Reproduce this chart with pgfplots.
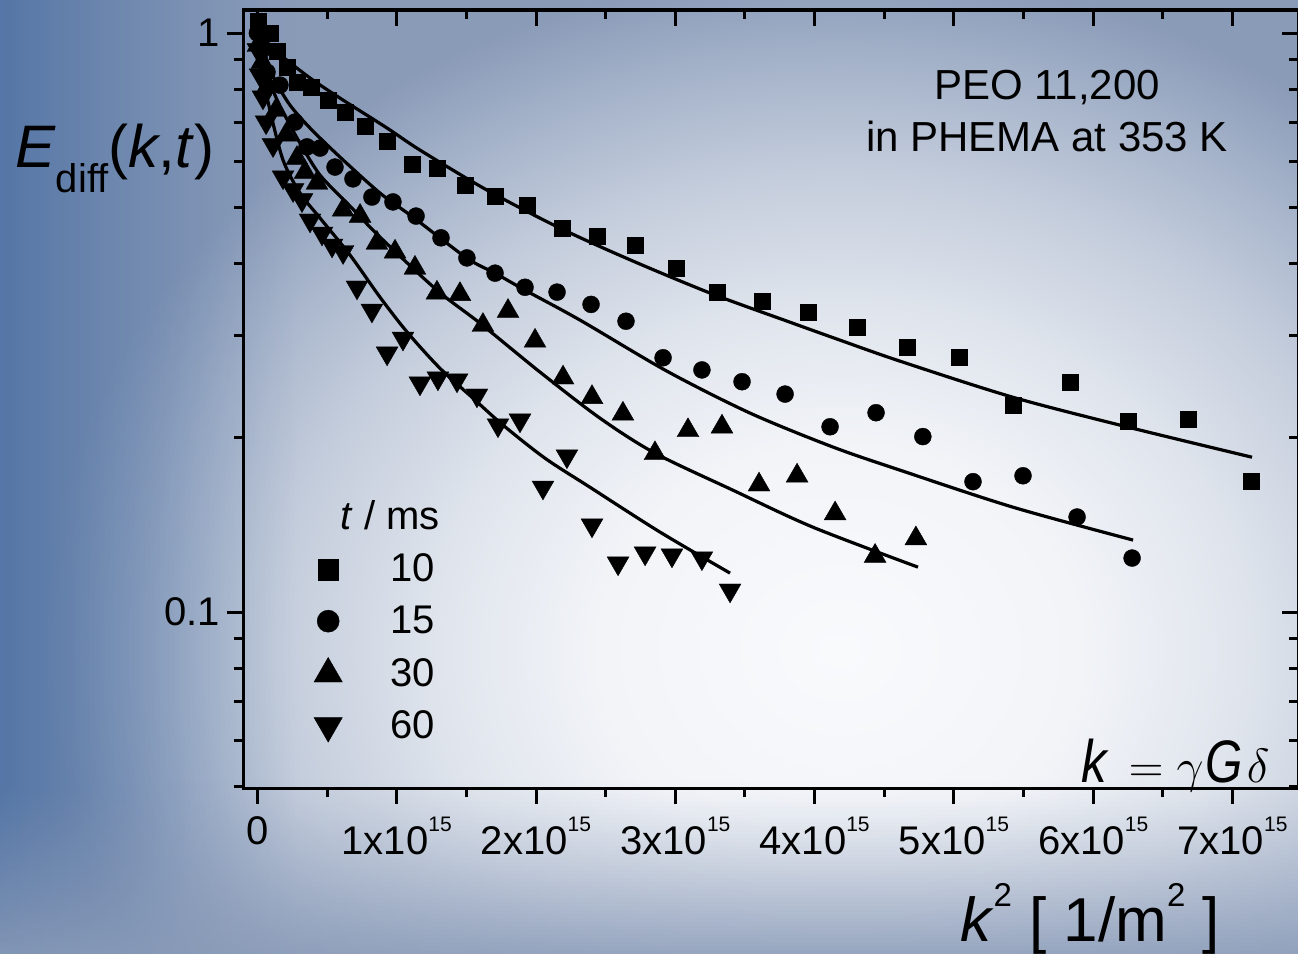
\RequirePackage{fix-cm}
\documentclass[border=0pt]{standalone}
\usepackage{pgfplots}
\pgfplotsset{compat=1.18}
\usepackage{fontspec}
\setmainfont{Liberation Sans}

% background colours
\definecolor{bgleft}{HTML}{4F72A4}
\definecolor{bgbot}{HTML}{8A9BB8}
\definecolor{g0}{HTML}{F9FAFC}
\definecolor{g1}{HTML}{F2F4F8}
\definecolor{g2}{HTML}{E0E5ED}
\definecolor{g3}{HTML}{C4CDDC}
\definecolor{g4}{HTML}{A4B2C9}
\definecolor{g5}{HTML}{8A9BB8}
% radial glow: the 25bp stop lands on the edge of the shaded rectangle
\pgfdeclareradialshading{glow}{\pgfpoint{0bp}{0bp}}{color(0bp)=(g0); color(7.5bp)=(g1); color(12.5bp)=(g2); color(17.5bp)=(g3); color(21.75bp)=(g4); color(25bp)=(g5); color(50bp)=(g5)}

% tick label of the form Nx10^15
\newcommand\tl[1]{#1x10\raisebox{11.5pt}{\fontsize{10.5}{12}\selectfont 15}}

\pgfplotsset{
  plotframe/.style={
    at={(121.5pt,83pt)}, anchor=south west,
    scale only axis, width=527.5pt, height=389pt,
    xmin=-0.1034e15, xmax=7.47e15, ymin=0.0497, ymax=1.096,
    scaled x ticks=false,
    xtick={0,1e15,2e15,3e15,4e15,5e15,6e15,7e15},
    minor xtick={0.5e15,1.5e15,2.5e15,3.5e15,4.5e15,5.5e15,6.5e15},
    ytick={0.1,1},
    minor ytick={0.05,0.06,0.07,0.08,0.09,0.2,0.3,0.4,0.5,0.6,0.7,0.8,0.9},
    major tick length=8pt, minor tick length=4.5pt,
    axis line style={line width=1.5pt},
    every tick/.style={black, line width=1.5pt},
  },
  fitline/.style={black, line width=1.6pt, mark=none, smooth, forget plot},
}

\begin{document}
\begin{tikzpicture}
\useasboundingbox (0,0) rectangle (649pt,477pt);
\begin{scope}
  \clip (0,0) rectangle (649pt,477pt);
  \fill[g5] (0,0) rectangle (649pt,477pt);
  \shade[shading=glow] (20pt,-188pt) rectangle (820pt,492pt);
  % darker band along the left edge
  \foreach \i in {0,...,59}{
    \pgfmathsetmacro\op{0.9*(1-(\i+0.5)/60)^1.3}
    \fill[bgleft, fill opacity=\op] (\i*2.5pt,0) rectangle ({(\i+1)*2.5pt},477pt);
  }
  % darker band along the bottom edge
  \foreach \i in {0,...,42}{
    \pgfmathsetmacro\op{0.85*(1-(\i+0.5)/43)^1.2}
    \fill[bgbot, fill opacity=\op] (0,\i*2pt) rectangle (649pt,{(\i+1)*2pt});
  }
\end{scope}

% mirrored ticks on top and right, pointing inwards
\begin{semilogyaxis}[plotframe, xticklabels={}, yticklabels={},
  xtick pos=right, ytick pos=right, tick align=inside]
\end{semilogyaxis}

\begin{semilogyaxis}[plotframe,
  xtick pos=left, ytick pos=left, tick align=outside,
  xticklabels={0,\tl{1},\tl{2},\tl{3},\tl{4},\tl{5},\tl{6},\tl{7}},
  yticklabels={0.1,1},
  tick label style={font=\fontsize{20}{24}\selectfont},
  xticklabel style={yshift=-3pt},
  legend style={draw=none, fill=none, at={(axis description cs:0.0673,0.3008)},
    anchor=north west, inner sep=0pt, outer sep=0pt, row sep=10.5pt,
    column sep=0pt, nodes={inner sep=0pt, font=\fontsize{20}{24}\selectfont},
    cells={anchor=center}},
  legend image code/.code={
    \draw[#1, every mark/.append style={scale=1.3}] plot coordinates {(0pt,0pt)};
    \path[draw=none, fill=none] (-7pt,0pt) -- (31pt,0pt);},
]

% fitted curves
\addplot[fitline] table {
0 1.0
0.090e15 0.9534
0.184e15 0.9090
0.378e15 0.8363
0.593e15 0.7721
0.931e15 0.6854
1.167e15 0.628
1.648e15 0.5356
2.172e15 0.4604
2.696e15 0.4039
3.270e15 0.3541
3.802e15 0.3181
4.183e15 0.2949
4.613e15 0.2713
5.424e15 0.2350
6.250e15 0.2087
7.140e15 0.1852
};
\addplot[fitline] table {
0 1.0
0.055e15 0.9164
0.126e15 0.8295
0.234e15 0.7510
0.378e15 0.6854
0.593e15 0.6107
0.880e15 0.5293
1.117e15 0.4810
1.504e15 0.4087
1.706e15 0.3850
1.921e15 0.3598
2.316e15 0.3194
2.940e15 0.2607
3.536e15 0.2207
4.132e15 0.1928
4.613e15 0.1759
5.424e15 0.1518
6.286e15 0.1332
};
\addplot[fitline] table {
0 1.0
0.055e15 0.8805
0.126e15 0.7815
0.234e15 0.6936
0.306e15 0.6457
0.450e15 0.5684
0.665e15 0.5026
0.880e15 0.4443
1.289e15 0.3598
1.598e15 0.3155
2.029e15 0.2597
2.459e15 0.2163
2.854e15 0.1882
3.414e15 0.1624
3.988e15 0.1402
4.742e15 0.1196
};
\addplot[fitline] table {
0 1.0
0.040e15 0.8461
0.090e15 0.7362
0.184e15 0.6035
0.306e15 0.5293
0.450e15 0.4791
0.665e15 0.4136
0.880e15 0.3499
1.075e15 0.3045
1.310e15 0.2638
1.548e15 0.2341
1.763e15 0.2104
2.064e15 0.1845
2.388e15 0.1643
2.890e15 0.1375
3.393e15 0.1168
};

% measured echo attenuation, t = 10 ms
\addplot[black, only marks, mark=square*, mark size=4pt,
  mark options={fill=black, draw=black, line width=0.2pt}] table {
0.004e15 1.049
0.090e15 1.000
0.141e15 0.931
0.212e15 0.873
0.284e15 0.823
0.385e15 0.807
0.507e15 0.766
0.629e15 0.730
0.773e15 0.691
0.931e15 0.651
1.110e15 0.594
1.289e15 0.585
1.490e15 0.546
1.706e15 0.523
1.935e15 0.505
2.186e15 0.460
2.438e15 0.446
2.711e15 0.430
3.005e15 0.393
3.300e15 0.357
3.623e15 0.344
3.953e15 0.330
4.305e15 0.311
4.664e15 0.287
5.036e15 0.276
5.424e15 0.228
5.834e15 0.250
6.250e15 0.214
6.681e15 0.215
7.133e15 0.168
};
\addlegendentry{10}
% t = 15 ms
\addplot[black, only marks, mark=*, mark size=4.25pt,
  mark options={fill=black, draw=black, line width=0.2pt}] table {
0.000e15 1.000
0.033e15 0.935
0.069e15 0.856
0.162e15 0.813
0.270e15 0.702
0.356e15 0.636
0.450e15 0.633
0.557e15 0.587
0.686e15 0.560
0.822e15 0.521
0.973e15 0.511
1.139e15 0.483
1.318e15 0.443
1.504e15 0.409
1.706e15 0.385
1.921e15 0.364
2.151e15 0.357
2.395e15 0.340
2.646e15 0.318
2.912e15 0.275
3.191e15 0.262
3.479e15 0.250
3.788e15 0.238
4.111e15 0.209
4.441e15 0.221
4.777e15 0.201
5.137e15 0.168
5.496e15 0.172
5.884e15 0.146
6.279e15 0.124
};
\addlegendentry{15}
% t = 30 ms
\addplot[black, only marks, mark=triangle*, mark size=6.3pt,
  mark options={fill=black, draw=black, line width=0.2pt}] table {
0.004e15 0.953
0.033e15 0.891
0.076e15 0.813
0.134e15 0.736
0.205e15 0.667
0.284e15 0.608
0.342e15 0.575
0.428e15 0.551
0.615e15 0.495
0.737e15 0.483
0.858e15 0.434
0.988e15 0.419
1.131e15 0.393
1.289e15 0.356
1.454e15 0.354
1.619e15 0.313
1.799e15 0.331
1.993e15 0.294
2.194e15 0.254
2.402e15 0.235
2.624e15 0.220
2.854e15 0.188
3.091e15 0.206
3.335e15 0.209
3.601e15 0.166
3.874e15 0.172
4.147e15 0.148
4.434e15 0.125
4.727e15 0.134
};
\addlegendentry{30}
% t = 60 ms
\addplot[black, only marks, mark=triangle*, mark size=6.3pt,
  mark options={rotate=180, fill=black, draw=black, line width=0.2pt}] table {
0.004e15 0.935
0.019e15 0.846
0.040e15 0.775
0.062e15 0.702
0.112e15 0.641
0.184e15 0.564
0.256e15 0.536
0.320e15 0.515
0.378e15 0.475
0.464e15 0.451
0.536e15 0.430
0.615e15 0.419
0.715e15 0.364
0.822e15 0.332
0.931e15 0.280
1.045e15 0.297
1.167e15 0.2485
1.296e15 0.2535
1.433e15 0.2515
1.576e15 0.2369
1.727e15 0.2104
1.885e15 0.2145
2.050e15 0.1643
2.222e15 0.186
2.402e15 0.1413
2.589e15 0.1215
2.783e15 0.1264
2.976e15 0.1254
3.191e15 0.1240
3.393e15 0.1091
};
\addlegendentry{60}
\end{semilogyaxis}

% labels and annotations
\node[anchor=base west, inner sep=0pt, font=\fontsize{30}{36}\selectfont] at (7.5pt,393pt)
  {\textit{E}\raisebox{-12.5pt}{\fontsize{20}{24}\selectfont diff}(\textit{k},\textit{t})};
\node[anchor=base, inner sep=0pt, font=\fontsize{31}{37}\selectfont] at (545pt,6pt)
  {\textit{k}\raisebox{17.5pt}{\fontsize{16.5}{20}\selectfont 2} [ 1/m\raisebox{17.5pt}{\fontsize{16.5}{20}\selectfont 2} ]};
\node[anchor=base, inner sep=0pt, font=\fontsize{21}{25}\selectfont] at (523.5pt,427pt) {PEO 11,200};
\node[anchor=base, inner sep=0pt, font=\fontsize{21}{25}\selectfont] at (523.5pt,401pt) {in PHEMA at 353 K};
\node[anchor=base west, inner sep=0pt, font=\fontsize{20}{24}\selectfont] at (170pt,212pt) {\textit{t} / ms};
\node[anchor=base east, inner sep=0pt] at (635pt,85.5pt)
  {\fontsize{30}{36}\selectfont\scalebox{0.85}[1]{\textit{k}}\hspace{10pt}\fontsize{24}{29}\selectfont$=\gamma$\hspace{1pt}\fontsize{30}{36}\selectfont\scalebox{0.8}[1]{\textit{G}}\hspace{2pt}\fontsize{24}{29}\selectfont$\delta$};
\end{tikzpicture}
\end{document}
